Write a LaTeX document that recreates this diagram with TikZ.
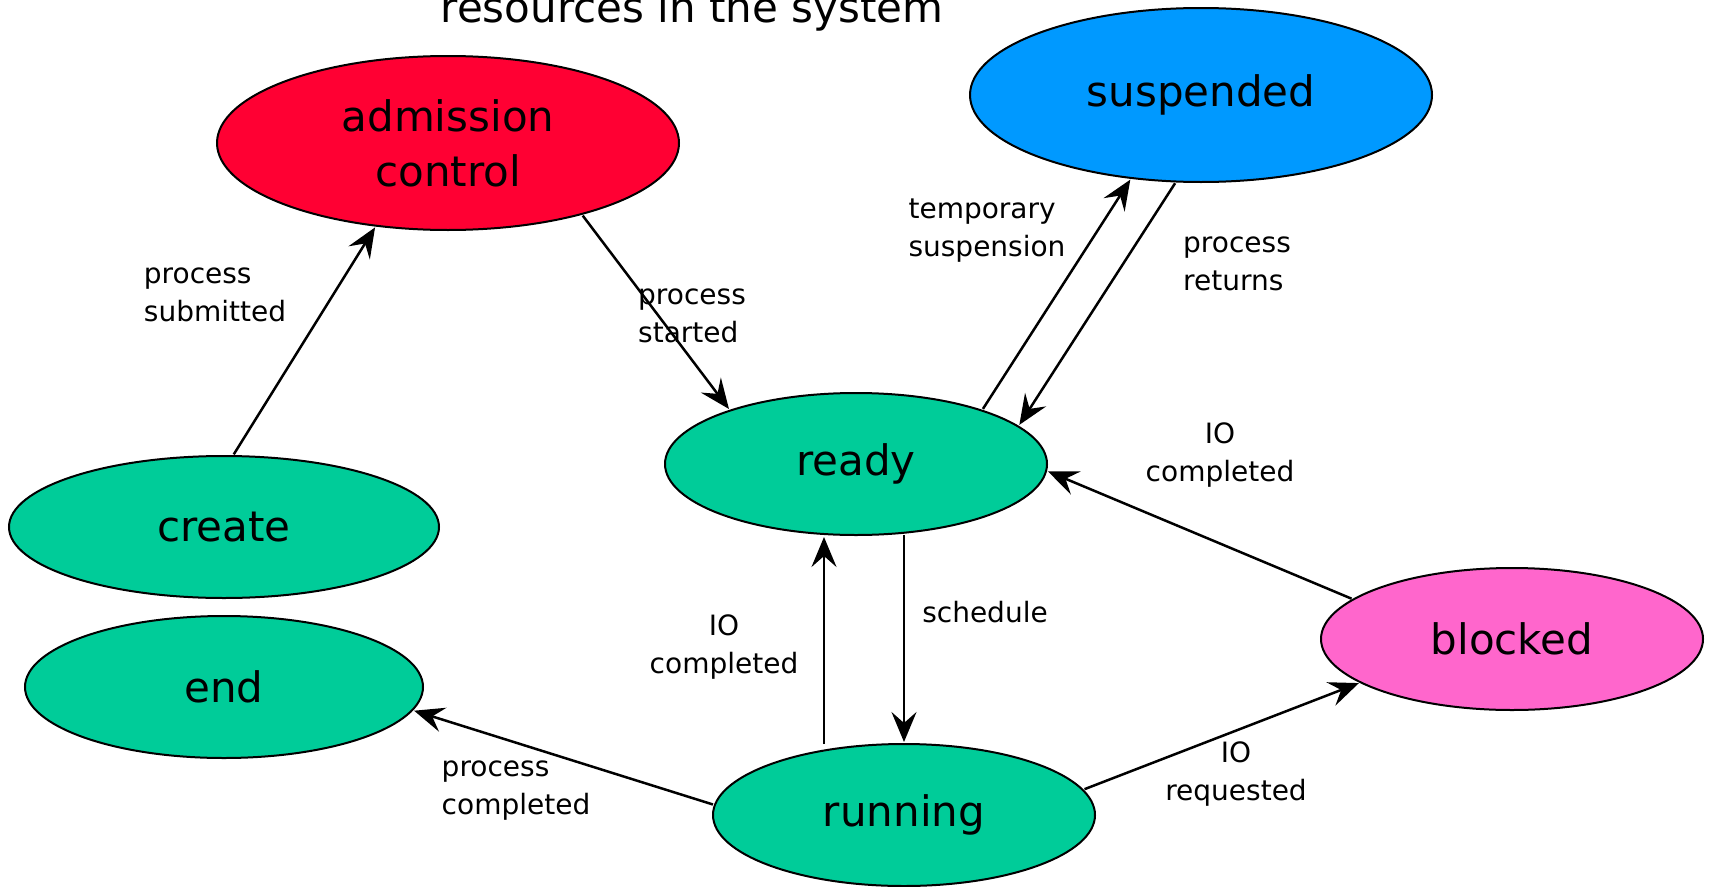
\documentclass[tikz,border=0pt]{standalone}
\usepackage{fontspec}
\setmainfont{DejaVu Sans}
\usetikzlibrary{shapes.geometric,arrows.meta,calc}
\definecolor{cred}{HTML}{FF0033}
\definecolor{cblue}{HTML}{0099FF}
\definecolor{cgreen}{HTML}{00CC99}
\definecolor{cpink}{HTML}{FF66CC}
\begin{document}
\begin{tikzpicture}[x=1pt,y=-1pt,
  state/.style={ellipse,draw=black,line width=2pt,inner sep=0pt,outer sep=0pt,
    font=\fontsize{42}{55}\selectfont,align=center},
  lbl/.style={font=\fontsize{28}{38}\selectfont,inner sep=0pt},
  conn/.style={line width=2.5pt,-{Stealth[length=30pt,width=25pt,inset=11pt]},shorten >=2pt,shorten <=2pt}]
\useasboundingbox (0,0) rectangle (1710,886);
\node[font=\fontsize{42}{55}\selectfont,anchor=base,inner sep=0pt] (title) at (692,22) {resources in the system};
\node[state,fill=cred,minimum width=462pt,minimum height=174pt] (adm) at (448,143) {admission\\control};
\node[state,fill=cblue,minimum width=462pt,minimum height=174pt] (susp) at (1201,95) {suspended};
\node[state,fill=cgreen,minimum width=382pt,minimum height=142pt] (ready) at (856,464) {ready};
\node[state,fill=cgreen,minimum width=430pt,minimum height=142pt] (create) at (224,527) {create};
\node[state,fill=cgreen,minimum width=398pt,minimum height=142pt] (end) at (224,687) {end};
\node[state,fill=cgreen,minimum width=382pt,minimum height=142pt] (run) at (904,815) {running};
\node[state,fill=cpink,minimum width=382pt,minimum height=142pt] (blk) at (1512,639) {blocked};
\coordinate (ioX) at (824,0);
\coordinate (schX) at (904,0);
\draw[conn] (create.83.6) -- (adm.229.9);
\draw[conn] (adm.332.4) -- (ready.157.4);
\draw[conn] (ready.23.8) -- (susp.230.3);
\draw[conn] (susp.254.7) -- (ready.13.6);
\draw[conn] (blk.166.9) -- (ready.-2.4);
\draw[conn] (run.8.9) -- (blk.196.2);
\draw[conn,shorten <=0pt] (run.north -| ioX) -- (ready.south -| ioX);
\draw[conn,shorten <=0pt] (ready.south -| schX) -- (run.north -| schX);
\draw[conn] (run.177.6) -- (end.-7.4);
\node[lbl,align=left] (l1) at (215,295) {process\\submitted};
\node[lbl,align=left] (l2) at (692,316) {process\\started};
\node[lbl,align=left] (l3) at (987,231) {temporary\\suspension};
\node[lbl,align=left] (l4) at (1237,264) {process\\returns};
\node[lbl,align=center] (l5) at (1220,455) {IO\\completed};
\node[lbl,align=center] (l6) at (724,647) {IO\\completed};
\node[lbl] (l7) at (985,612) {schedule};
\node[lbl,align=left] (l8) at (516,791) {process\\completed};
\node[lbl,align=center] (l9) at (1236,774) {IO\\requested};
\end{tikzpicture}
\end{document}
